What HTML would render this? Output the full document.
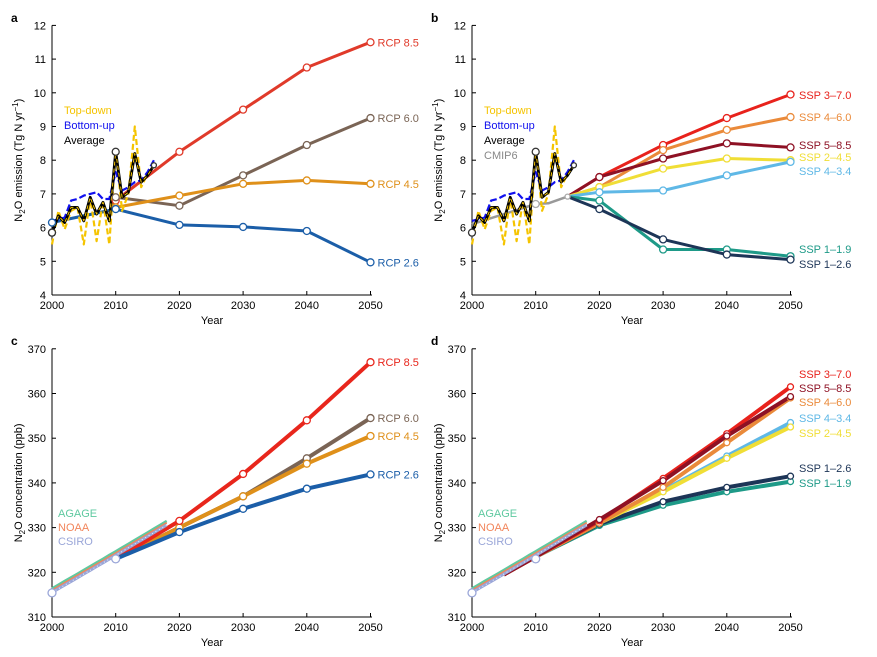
<!DOCTYPE html>
<html><head><meta charset="utf-8"><style>
html,body{margin:0;padding:0;background:#fff;}
svg{display:block;font-family:"Liberation Sans",Arial,sans-serif;}
</style></head><body>
<svg id="s" width="877" height="657" viewBox="0 0 877 657" xmlns="http://www.w3.org/2000/svg"></svg>
<script>
var S=document.getElementById('s'),out='';
function P(x0,yBot,ymin,ppu){return function(yr,v){return [x0+(yr-2000)*6.37,yBot-(v-ymin)*ppu];};}
function line(f,pts,col,w,dash,extra){var d=pts.map(function(p,i){var q=f(p[0],p[1]);return (i?'L':'M')+q[0].toFixed(1)+' '+q[1].toFixed(1);}).join('');
out+='<path d="'+d+'" fill="none" stroke="'+col+'" stroke-width="'+w+'" stroke-linejoin="round" '+(dash?'stroke-dasharray="'+dash+'"':'')+(extra||'')+'/>';}
function dot(f,yr,v,col,r){var q=f(yr,v);out+='<circle cx="'+q[0]+'" cy="'+q[1]+'" r="'+(r||3.5)+'" fill="#fff" stroke="'+col+'" stroke-width="1.3"/>';}
function txt(x,y,t,col,size,anchor,extra){out+='<text x="'+x+'" y="'+y+'" fill="'+col+'" font-size="'+(size||11)+'"'+(anchor?' text-anchor="'+anchor+'"':'')+(extra||'')+'>'+t+'</text>';}
function axes(x0,yBot,ymin,ymax,step,ppu,ylabel,letter,ly){
 out+='<line x1="'+x0+'" y1="'+(yBot-(ymax-ymin)*ppu)+'" x2="'+x0+'" y2="'+yBot+'" stroke="#000" stroke-width="1"/>';
 out+='<line x1="'+x0+'" y1="'+yBot+'" x2="'+(x0+320)+'" y2="'+yBot+'" stroke="#000" stroke-width="1"/>';
 for(var v=ymin;v<=ymax+1e-6;v+=step){var y=yBot-(v-ymin)*ppu;out+='<line x1="'+x0+'" y1="'+y+'" x2="'+(x0+4)+'" y2="'+y+'" stroke="#000"/>';txt(x0-6,y+4,v,'#000',11,'end');}
 for(var yr=2000;yr<=2050;yr+=10){var x=x0+(yr-2000)*6.37;out+='<line x1="'+x+'" y1="'+yBot+'" x2="'+x+'" y2="'+(yBot-4)+'" stroke="#000"/>';txt(x,yBot+14,yr,'#000',11,'middle');}
 txt(x0+160,yBot+29,'Year','#000',11,'middle');
 var cy=yBot-(ymax-ymin)*ppu/2;
 out+='<text transform="translate('+(x0-30)+','+cy+') rotate(-90)" text-anchor="middle" font-size="11">'+ylabel+'</text>';
 txt(x0-41,ly,letter,'#000',12,null,' font-weight="bold"');
}
var avg=[[2000,5.85],[2001,6.35],[2002,6.15],[2003,6.6],[2004,6.6],[2005,6.2],[2006,6.9],[2007,6.4],[2008,6.75],[2009,6.2],[2010,8.25],[2011,6.9],[2012,7.05],[2013,8.2],[2014,7.35],[2015,7.55],[2016,7.85]];
var td=[[2000,5.5],[2001,6.5],[2002,5.95],[2003,6.5],[2004,6.6],[2005,5.5],[2006,6.9],[2007,5.6],[2008,6.8],[2009,5.5],[2010,8.3],[2011,6.5],[2012,7.0],[2013,9.0],[2014,7.2],[2015,7.6],[2016,7.85]];
var bu=[[2000,6.2],[2001,6.25],[2002,6.3],[2003,6.8],[2004,6.85],[2005,6.95],[2006,7.0],[2007,7.05],[2008,6.85],[2009,6.85],[2010,7.65],[2011,7.1],[2012,7.2],[2013,7.35],[2014,7.4],[2015,7.65],[2016,8.0]];
var EL='N<tspan dy="3" font-size="8">2</tspan><tspan dy="-3">O emission (Tg N yr</tspan><tspan dy="-4" font-size="8">−1</tspan><tspan dy="4">)</tspan>';
var CL='N<tspan dy="3" font-size="8">2</tspan><tspan dy="-3">O concentration (ppb)</tspan>';
function obs(f){line(f,td,'#f5c400',2.2,'6 3');line(f,bu,'#1010ee',2.2,'7 3');line(f,avg,'#000',2.8);line(f,avg,'#f5c400',1,'4 3');dot(f,2000,5.85,'#333',3.5);dot(f,2010,8.25,'#333',3.5);dot(f,2016,7.85,'#333',2.5);}
// Panel a
var fa=P(52,295,4,33.7);axes(52,295,4,12,1,33.7,EL,'a',22);
var ra=[['RCP 8.5','#e03a2a',[[2010,6.8],[2020,8.25],[2030,9.5],[2040,10.75],[2050,11.5]]],
['RCP 6.0','#7a6455',[[2010,6.9],[2020,6.65],[2030,7.55],[2040,8.45],[2050,9.25]]],
['RCP 4.5','#df901a',[[2010,6.6],[2020,6.95],[2030,7.3],[2040,7.4],[2050,7.3]]],
['RCP 2.6','#1b5ea8',[[2000,6.15],[2010,6.55],[2020,6.08],[2030,6.02],[2040,5.9],[2050,4.97]]]];
ra.forEach(function(r){line(fa,r[2],r[1],3);});
obs(fa);
ra.forEach(function(r){r[2].forEach(function(p){if(p[0]>=2010)dot(fa,p[0],p[1],r[1]);});var q=fa(2050,r[2][r[2].length-1][1]);txt(q[0]+7,q[1]+4,r[0],r[1]);});
dot(fa,2000,6.15,'#1b5ea8');dot(fa,2000,5.85,'#333');
txt(64,114,'Top-down','#f5c400');txt(64,129,'Bottom-up','#1010ee');txt(64,144,'Average','#000');
// Panel b
var fb=P(472,295,4,33.7);axes(472,295,4,12,1,33.7,EL,'b',22);
var sb=[['SSP 3–7.0','#e8221c',[7.5,8.45,9.25,9.95],99],['SSP 4–6.0','#ea8a3a',[7.2,8.3,8.9,9.28],121],['SSP 5–8.5','#8e1124',[7.5,8.05,8.5,8.38],149],['SSP 2–4.5','#f0de36',[7.2,7.75,8.05,8.0],161],['SSP 4–3.4','#5fb8e6',[7.05,7.1,7.55,7.95],175],['SSP 1–1.9','#1e9a88',[6.8,5.35,5.35,5.15],253],['SSP 1–2.6','#1d3557',[6.55,5.65,5.2,5.05],268]];
line(fb,[[2000,6.1],[2005,6.4],[2010,6.7],[2012,6.72],[2015,6.92]],'#999',2.5);
sb.forEach(function(r){line(fb,[[2015,6.92],[2020,r[2][0]],[2030,r[2][1]],[2040,r[2][2]],[2050,r[2][3]]],r[1],3);});
obs(fb);dot(fb,2010,6.7,'#aaa');dot(fb,2015,6.92,'#aaa',2.5);
sb.forEach(function(r){[2020,2030,2040,2050].forEach(function(y,i){dot(fb,y,r[2][i],r[1]);});txt(799,r[3],r[0],r[1]);});
txt(484,114,'Top-down','#f5c400');txt(484,129,'Bottom-up','#1010ee');txt(484,144,'Average','#000');txt(484,159,'CMIP6','#888');
// Observations conc
var ag=[],no=[],cs=[];for(var y=2000;y<=2018;y++){var v=316+(y-2000)*0.82+0.001*(y-2000)*(y-2000);ag.push([y,v+0.4]);no.push([y,v]);cs.push([y,v-0.5]);}
function cobs(f){line(f,ag,'#5fc9a0',2.5);line(f,no,'#f2855a',1.8);line(f,cs,'#9aa6d8',3);line(f,cs,'#fff',0.8,'1 3');dot(f,2000,315.4,'#9aa6d8',4);dot(f,2010,323,'#9aa6d8',4);}
// Panel c
var fc=P(52,617,310,4.47);axes(52,617,310,370,10,4.47,CL,'c',345);
var rc=[['RCP 6.0','#7a6455',[330,337,345.5,354.5],353],['RCP 4.5','#df901a',[330,337,344.3,350.5],360],['RCP 8.5','#e8261c',[331.5,342,354,367],0],['RCP 2.6','#1b5ea8',[329,334.2,338.7,341.9],0]];
rc.forEach(function(r){line(fc,[[2010,323],[2020,r[2][0]],[2030,r[2][1]],[2040,r[2][2]],[2050,r[2][3]]],r[1],4);});
cobs(fc);
rc.forEach(function(r){[2020,2030,2040,2050].forEach(function(y,i){dot(fc,y,r[2][i],r[1]);});var q=fc(2050,r[2][3]);txt(q[0]+7,q[1]+4,r[0],r[1]);});
txt(58,517,'AGAGE','#5fc9a0');txt(58,531,'NOAA','#f2855a');txt(58,545,'CSIRO','#9aa6d8');
// Panel d
var fd=P(472,617,310,4.47);axes(472,617,310,370,10,4.47,CL,'d',345);
var sd=[['SSP 1–1.9','#1e9a88',[330.5,335,338,340.3],487],['SSP 1–2.6','#1d3557',[330.8,335.8,339,341.5],472],['SSP 4–3.4','#5fb8e6',[331,338.3,346,353.5],422],['SSP 2–4.5','#f0de36',[331,338,345.5,352.5],437],['SSP 4–6.0','#ea8a3a',[331,339,349,359],406],['SSP 3–7.0','#e8221c',[331.5,341,351,361.5],378],['SSP 5–8.5','#8e1124',[331.8,340.5,350.5,359.3],392]];
sd.forEach(function(r){line(fd,[[2005,319.5],[2010,323.5],[2020,r[2][0]],[2030,r[2][1]],[2040,r[2][2]],[2050,r[2][3]]],r[1],4);});
cobs(fd);
sd.forEach(function(r){[2020,2030,2040,2050].forEach(function(y,i){dot(fd,y,r[2][i],r[1],3);});txt(799,r[3],r[0],r[1]);});
txt(478,517,'AGAGE','#5fc9a0');txt(478,531,'NOAA','#f2855a');txt(478,545,'CSIRO','#9aa6d8');
S.innerHTML=out;
</script>
</body></html>
